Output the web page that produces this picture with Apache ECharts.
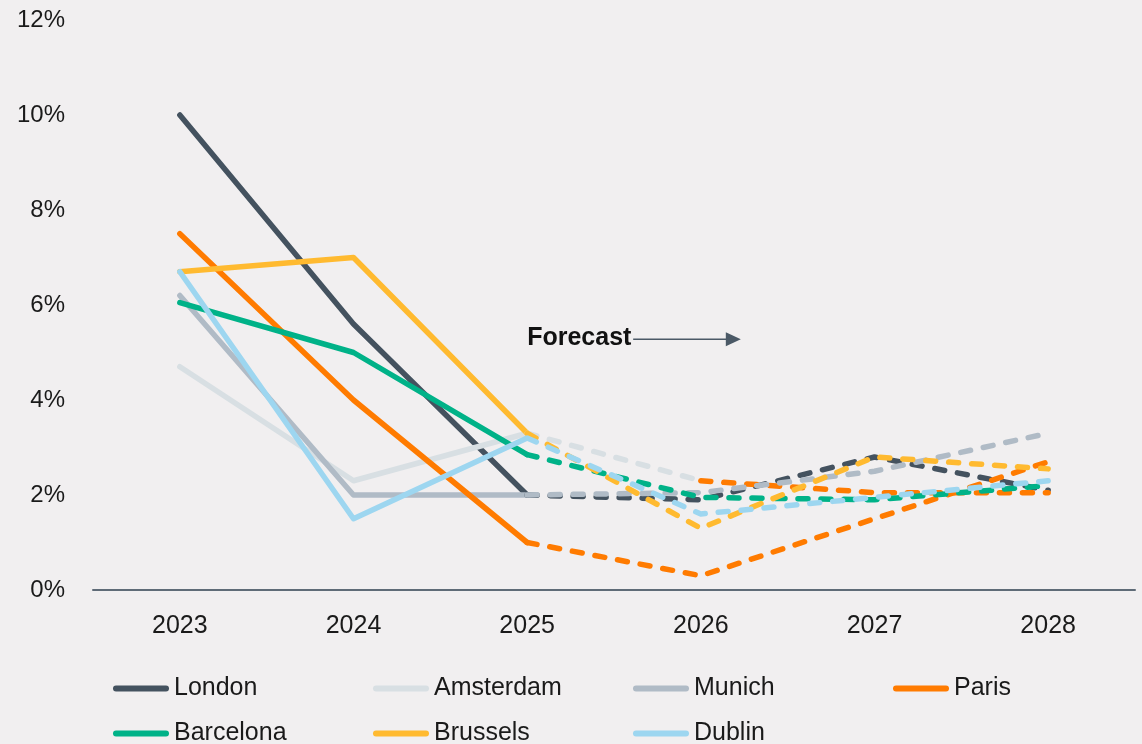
<!DOCTYPE html>
<html>
<head>
<meta charset="utf-8">
<script src="https://cdn.jsdelivr.net/npm/echarts@6/dist/echarts.min.js"></script>
<style>
html, body { margin: 0; padding: 0; background: #f1eff0; }
#container { width: 1142px; height: 744px; }
</style>
</head>
<body>
<div id="container"></div>
<script>
var years = ['2023', '2024', '2025', '2026', '2027', '2028'];
var yTicks = [0, 2, 4, 6, 8, 10, 12];

var london    = [10.0, 5.6, 2.0, 1.9, 2.8, 2.1];
var amsterdam = [4.7, 2.3, 3.3, 2.3, null, null];
var munich    = [6.2, 2.0, 2.0, 2.05, 2.5, 3.3];
var paris     = [7.5, 4.0, 1.0, 0.3, 1.5, 2.7];
var barcelona = [6.05, 5.0, 2.85, 1.95, 1.9, 2.2];
var brussels  = [6.7, 7.0, 3.3, 1.3, 2.8, 2.55];
var dublin    = [6.7, 1.5, 3.2, 1.6, 1.95, 2.3];
// orange dashed forecast segment drawn from 2026 on, with no legend entry
var extraForecast = [null, null, null, 2.3, 2.05, 2.05];

var lastActual = 2; // 2025 is the last actual year

var cities = [
    { name: 'London',    data: london,    color: '#44525f' },
    { name: 'Amsterdam', data: amsterdam, color: '#d8dfe3' },
    { name: 'Munich',    data: munich,    color: '#b0bbc6' },
    { name: 'Paris',     data: paris,     color: '#ff7b00' },
    { name: 'Barcelona', data: barcelona, color: '#00b288' },
    { name: 'Brussels',  data: brussels,  color: '#ffba30' },
    { name: 'Dublin',    data: dublin,    color: '#9dd6f0' }
];

var dom = document.getElementById('container');
var myChart = echarts.init(dom);

function lineSeries(name, data, color, dashed) {
    return {
        name: name,
        type: 'line',
        data: data,
        showSymbol: false,
        symbol: 'none',
        connectNulls: false,
        lineStyle: {
            color: color,
            width: 5.5,
            cap: 'round',
            join: 'round',
            type: dashed ? [10, 13] : 'solid'
        },
        itemStyle: { color: color },
        emphasis: { disabled: true }
    };
}

var series = [];
cities.forEach(function (c) {
    var actual = c.data.map(function (v, i) { return i <= lastActual ? v : null; });
    series.push(lineSeries(c.name, actual, c.color, false));
});
cities.forEach(function (c) {
    var fc = c.data.map(function (v, i) { return i >= lastActual ? v : null; });
    series.push(lineSeries(c.name, fc, c.color, true));
});
series.splice(7 + 1, 0, lineSeries('Amsterdam forecast', extraForecast, '#ff7b00', true));

var barIcon = 'path://M3,0 L53,0 A3,3 0 0 1 53,6 L3,6 A3,3 0 0 1 3,0 Z';

// legend: 4 columns, 2 rows
var colLeft = [113, 373, 633, 893];
var rowTop = [676, 721];

var legends = cities.map(function (c, i) {
    return {
        data: [{ name: c.name, icon: barIcon, itemStyle: { color: c.color } }],
        left: colLeft[i % 4],
        top: rowTop[Math.floor(i / 4)],
        itemWidth: 56,
        itemHeight: 6,
        padding: 0,
        selectedMode: false,
        textStyle: {
            fontFamily: 'Liberation Sans',
            fontSize: 25,
            color: '#1a1a1a'
        }
    };
});

option = {
    backgroundColor: '#f1eff0',
    animation: false,
    grid: { left: 93, right: 7, top: 20, bottom: 154 },
    legend: legends,
    xAxis: {
        type: 'category',
        data: years,
        boundaryGap: true,
        axisLine: { show: true, lineStyle: { color: '#5f6b77', width: 2 } },
        axisTick: { show: false },
        axisLabel: {
            margin: 24,
            fontFamily: 'Liberation Sans',
            fontSize: 25,
            color: '#1a1a1a'
        }
    },
    yAxis: {
        type: 'value',
        min: yTicks[0],
        max: yTicks[yTicks.length - 1],
        interval: 2,
        axisLine: { show: false },
        axisTick: { show: false },
        splitLine: { show: false },
        axisLabel: {
            margin: 28,
            fontFamily: 'Liberation Sans',
            fontSize: 24,
            color: '#1a1a1a',
            formatter: '{value}%'
        }
    },
    series: series
};

myChart.setOption(option, true);

// "Forecast" annotation, anchored to 2025 / 2026 on the chart scales
var p0 = myChart.convertToPixel({ gridIndex: 0 }, ['2025', 5.28]);
var p1 = myChart.convertToPixel({ gridIndex: 0 }, ['2026', 5.28]);
var arrowStart = p0[0] + 106;
var arrowEnd = p1[0] + 40;
myChart.setOption({
    graphic: [
        {
            type: 'text',
            left: p0[0],
            top: p0[1] - 14,
            style: {
                text: 'Forecast',
                font: 'bold 25px "Liberation Sans"',
                fill: '#111'
            }
        },
        {
            type: 'line',
            shape: { x1: arrowStart, y1: p0[1], x2: arrowEnd - 14, y2: p0[1] },
            style: { stroke: '#4b5966', lineWidth: 1.5 }
        },
        {
            type: 'polygon',
            shape: { points: [[arrowEnd - 15, p0[1] - 7], [arrowEnd, p0[1]], [arrowEnd - 15, p0[1] + 7]] },
            style: { fill: '#4b5966' }
        }
    ]
});
</script>
</body>
</html>
